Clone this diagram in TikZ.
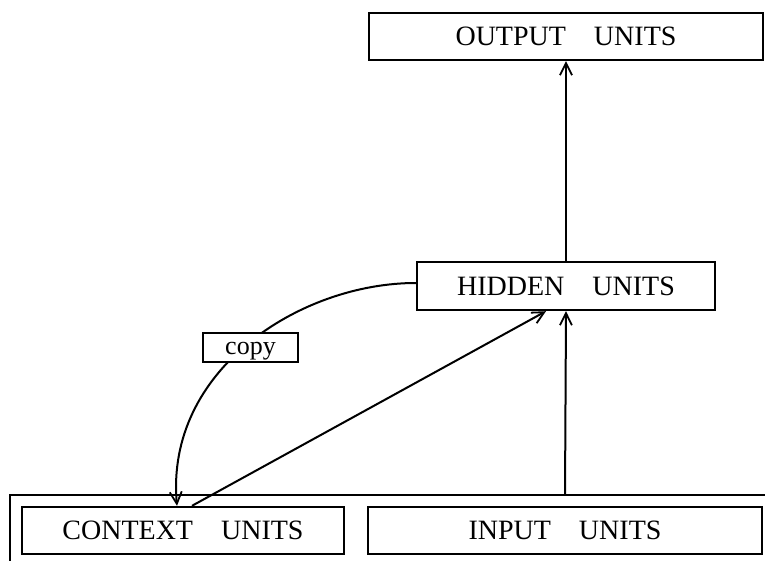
\documentclass[tikz,border=0pt]{standalone}
\usepackage{fontspec}
\setmainfont{Liberation Serif}
\usetikzlibrary{arrows.meta}
\newcommand\wordgap{\hspace{1em}}
\tikzset{
  unitbox/.style={draw, line width=2.4pt, fill=white, inner sep=0pt,
    font=\fontsize{28}{32}\selectfont},
  link/.style={line width=2pt, -{Straight Barb[length=12pt,width=12pt,line width=1.8pt]}},
}
\begin{document}
\begin{tikzpicture}[x=1pt,y=-1pt]
  \useasboundingbox (0,0) rectangle (765,561);
  % outer frame around the bottom layer (runs off the page)
  \coordinate (frameleft) at (10,561);
  \coordinate (frametop) at (10,495);
  \coordinate (frameright) at (775,495);
  \draw[line width=2pt] (frameleft) -- (frametop) -- (frameright);

  \node[unitbox, minimum width=394pt, minimum height=47pt] (output) at (566,36.5) {OUTPUT\wordgap UNITS};
  \node[unitbox, minimum width=298pt, minimum height=48pt] (hidden) at (566,286) {HIDDEN\wordgap UNITS};
  \node[unitbox, minimum width=322pt, minimum height=47pt] (context) at (183,530.5) {CONTEXT\wordgap UNITS};
  \node[unitbox, minimum width=394pt, minimum height=47pt] (input) at (565,530.5) {INPUT\wordgap UNITS};

  % connections
  \draw[link] (input.north |- frametop) -- (hidden.south);
  \draw[link] (hidden.north) -- (output.south);
  \draw[link] ([xshift=9pt]context.north) -- ([xshift=-20pt]hidden.south);
  \draw[link] ([yshift=3pt]hidden.west) .. controls (300,283) and (165,370) .. ([xshift=-6pt]context.north);

  \node[unitbox, line width=2pt, font=\fontsize{26}{30}\selectfont,
        text height=14pt, text depth=0pt,
        minimum width=95pt, minimum height=29pt] (copy) at (250.5,347.5) {copy};
\end{tikzpicture}
\end{document}
